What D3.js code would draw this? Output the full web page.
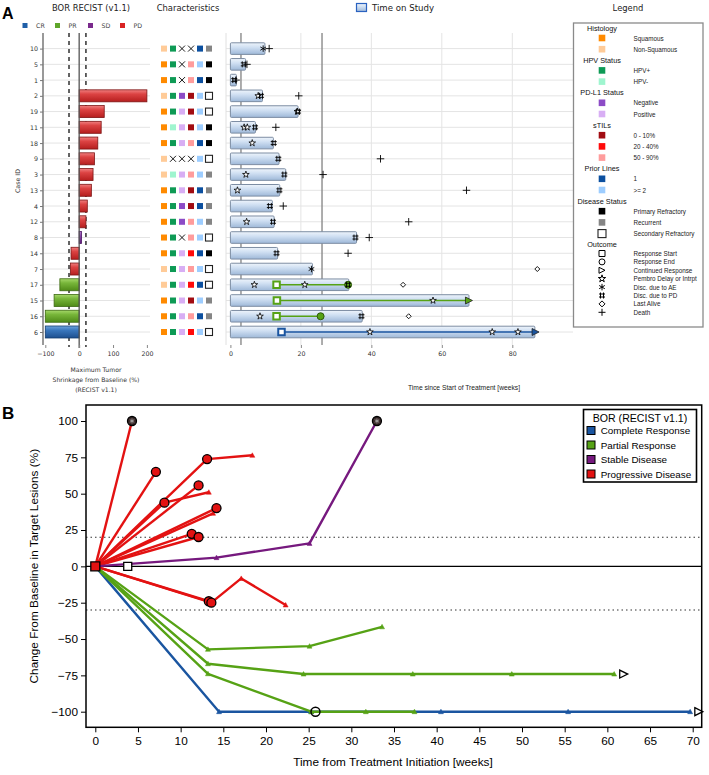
<!DOCTYPE html>
<html><head><meta charset="utf-8">
<script src="https://cdn.jsdelivr.net/npm/d3@7"></script>
<style>body{margin:0;background:#fff}svg{display:block}</style>
</head><body>
<svg id="chart" width="709" height="775"></svg>
<script>
// ---------------- DATA ----------------
const caseIds = ["10","5","1","2","19","11","18","9","3","13","4","12","8","14","7","17","15","16","6"];
const borCategory = ["PD","PD","PD","PD","PD","PD","PD","PD","PD","PD","PD","PD","SD","PD","PD","PR","PR","PR","CR"];
const maxShrinkage = [null,null,null,200,74,65,55,45,41,36,24,20,7,-24,-26,-57,-74,-100,-100];
const histology = ["Non-Squamous","Squamous","Squamous","Non-Squamous","Squamous","Squamous","Squamous","Non-Squamous","Non-Squamous","Squamous","Squamous","Squamous","Squamous","Squamous","Non-Squamous","Non-Squamous","Squamous","Squamous","Squamous"];
const hpvStatus = ["HPV+","HPV+","HPV+","HPV+","HPV+","HPV-","HPV+",null,"HPV-","HPV+","HPV+","HPV+","HPV+","HPV+","HPV+","HPV+","HPV+","HPV+","HPV+"];
const pdl1Status = [null,null,null,"Negative","Positive","Positive","Positive",null,"Positive","Positive","Negative","Negative",null,"Positive","Positive","Positive","Positive","Positive","Positive"];
const stilsLevel = [null,"50 - 90%","50 - 90%","0 - 10%","0 - 10%","0 - 10%","50 - 90%",null,"50 - 90%","0 - 10%","0 - 10%","50 - 90%","50 - 90%","20 - 40%","50 - 90%","20 - 40%","0 - 10%","50 - 90%","20 - 40%"];
const priorLines = ["1",">= 2","1",">= 2",">= 2",">= 2","1",">= 2",">= 2","1","1",">= 2",">= 2","1",">= 2","1",">= 2","1",">= 2"];
const diseaseStatus = ["Recurrent","Primary Refractory","Primary Refractory","Secondary Refractory","Secondary Refractory","Primary Refractory","Primary Refractory","Secondary Refractory","Recurrent","Recurrent","Recurrent","Recurrent","Secondary Refractory","Primary Refractory","Secondary Refractory","Secondary Refractory","Recurrent","Recurrent","Secondary Refractory"];
const timeOnStudy = [9.8,4.3,1.7,9.1,19.2,7.1,12.2,13.8,15.7,14.0,11.9,12.4,35.8,13.4,23.3,33.6,67.7,37.4,86.4];

const responseStartEvents = [["17",13.1],["15",13.2],["16",13.1],["6",14.5]];
const responseEndEvents = [["17",33.4],["16",25.6]];
const continuedResponseEvents = [["15",67.7],["6",86.6]];
const pembroDelayEvents = [["2",7.9],["19",19.0],["11",3.9],["11",4.8],["18",6.2],["3",4.4],["13",2.0],["12",4.6],["17",6.8],["17",21.1],["15",57.5],["16",8.4],["6",39.6],["6",74.3],["6",81.6]];
const discAEEvents = [["10",9.3],["7",23.0]];
const discPDEvents = [["5",3.8],["1",1.1],["2",8.7],["19",19.2],["11",7.0],["18",12.3],["9",13.6],["3",15.3],["13",13.9],["4",11.2],["12",12.1],["8",35.5],["14",13.1],["17",33.4],["16",37.2]];
const lastAliveEvents = [["7",87.1],["17",49.0],["16",50.6]];
const deathEvents = [["10",11.0],["5",4.7],["1",1.6],["2",19.4],["11",12.9],["9",42.6],["3",26.3],["13",67.0],["4",15.0],["12",50.6],["8",39.4],["14",33.4]];

const waterfallThresholds = [-30, 20];
const waterfallTicks = [-100, 0, 100, 200];
const swimmerTicks = [0, 20, 40, 60, 80];
const swimmerRefWeeks = [3, 26];

const legendGroupTitles = ["Histology","HPV Status","PD-L1 Status","sTILs","Prior Lines","Disease Status","Outcome"];
const legendGroupItems = [["Squamous","Non-Squamous"],["HPV+","HPV-"],["Negative","Positive"],["0 - 10%","20 - 40%","50 - 90%"],["1",">= 2"],["Primary Refractory","Recurrent","Secondary Refractory"],["Response Start","Response End","Continued Response","Pembro Delay or Intrpt","Disc. due to AE","Disc. due to PD","Last Alive","Death"]];
const outcomeSymbols = ["square","circle","triRight","star","asterisk","hash","diamond","plus"];

// Panel B
const spiderBor = ["PD","PD","PD","PD","PD","PD","PD","PD","PD","PD","PD","SD","CR","PR","PR","PR"];
const spiderWeeks = [[0,4.3],[0,7.1],[0,13.1,18.4],[0,8.1,13.3],[0,12.1],[0,14.2],[0,13.8],[0,11.3],[0,12.1],[0,13.3],[0,13.6,17.1,22.3],[0,14.2,25.1,33.0],[0,14.5,25.3,40.5,55.4,69.7],[0,13.2,25.1,33.6],[0,13.2,24.4,37.2,48.8,60.8],[0,13.2,25.3,31.7,37.4]];
const spiderChange = [[0,100],[0,65],[0,73.8,76.4],[0,43.8,51],[0,55.7],[0,40.1],[0,36.5],[0,22.4],[0,20.2],[0,-24],[0,-25,-8.3,-26.6],[0,6,15.8,100],[0,-100,-100,-100,-100,-100],[0,-57.1,-54.9,-41.6],[0,-67,-74.1,-74.1,-74.1,-74.1],[0,-73.9,-100,-100,-100]];
const progressionWeeks = [4.3,7.1,13.1,8.1,12.1,14.2,11.3,12.1,13.3,13.6,33.0];
const progressionChange = [100,65,73.8,43.8,55.7,40.1,22.4,20.2,-24,-25,100];
const responseStartWeeksB = [3.8], responseStartChangeB = [0];
const responseEndWeeksB = [25.8], responseEndChangeB = [-100];
const continuedWeeksB = [61.8, 70.6], continuedChangeB = [-74.1, -100];
const spiderThresholds = [20, -30];
const spiderXTicks = d3.range(0, 71, 5);
const spiderYTicks = [-100,-75,-50,-25,0,25,50,75,100];
const borLegendLabels = ["Complete Response","Partial Response","Stable Disease","Progressive Disease"];
const borLegendKeys = ["CR","PR","SD","PD"];

// ---------------- STYLE ----------------
const borColA = {CR:"#1f5fa8", PR:"#5fa62a", SD:"#7a2a8c", PD:"#d92323"};
const borColB = {CR:"#1a55a0", PR:"#56a215", SD:"#76197e", PD:"#e31212"};
const charColors = {"Squamous":"#ff8a00","Non-Squamous":"#ffcb98","HPV+":"#0e9a55","HPV-":"#9ff5cf","Negative":"#8c4bc6","Positive":"#d8aef4","0 - 10%":"#a10c12","20 - 40%":"#ff0a0a","50 - 90%":"#ff9c9c","1":"#0b4f9f",">= 2":"#9dcdff","Primary Refractory":"#000","Recurrent":"#858585","Secondary Refractory":"none"};
const FA = "DejaVu Sans, Verdana, sans-serif";
const FB = "Liberation Sans, Arial, sans-serif";

const svg = d3.select("#chart");
const defs = svg.append("defs");
function addGrad(id, stops){
  const g = defs.append("linearGradient").attr("id",id).attr("x1",0).attr("y1",0).attr("x2",0).attr("y2",1);
  stops.forEach(([o,c])=>g.append("stop").attr("offset",o).attr("stop-color",c));
}
addGrad("gPD",[[0,"#f08080"],[0.35,"#dc4343"],[1,"#b51e1e"]]);
addGrad("gPR",[[0,"#a6d86a"],[0.35,"#78b63a"],[1,"#4f8a18"]]);
addGrad("gCR",[[0,"#6fa3dc"],[0.35,"#3a77bd"],[1,"#1d4f8f"]]);
addGrad("gSD",[[0,"#b07acc"],[0.35,"#8a44a8"],[1,"#5e1f7a"]]);
addGrad("gTime",[[0,"#eef4fb"],[0.4,"#cfdff2"],[1,"#9eb8d8"]]);
const strokeA = {PD:"#7d1414",PR:"#3e6a12",CR:"#153c6e",SD:"#4c1464"};

function markerPath(type, s){
  const h = s/2;
  switch(type){
    case "square": return `M${-h},${-h}h${s}v${s}h${-s}Z`;
    case "circle": return d3.symbol().type(d3.symbolCircle).size(Math.PI*h*h)();
    case "triRight": return `M${-h},${-h}L${h},0L${-h},${h}Z`;
    case "triUp": return `M0,${-h}L${h},${h*0.8}L${-h},${h*0.8}Z`;
    case "star": return d3.symbol().type(d3.symbolStar).size(s*s*0.55)();
    case "asterisk": { const a=h*0.87, b=h*0.5; return `M0,${-h}V${h}M${-a},${-b}L${a},${b}M${-a},${b}L${a},${-b}`; }
    case "hash": { const q=s/4; return `M${-q},${-h}V${h}M${q},${-h}V${h}M${-h},${-q}H${h}M${-h},${q}H${h}`; }
    case "diamond": return `M0,${-h}L${h},0L0,${h}L${-h},0Z`;
    case "plus": return `M0,${-h}V${h}M${-h},0H${h}`;
    case "times": return `M${-h},${-h}L${h},${h}M${-h},${h}L${h},${-h}`;
  }
}
function drawSym(g, type, x, y, s, opts={}){
  return g.append("path").attr("d", markerPath(type,s)).attr("transform",`translate(${x},${y})`)
    .attr("fill", opts.fill || "none").attr("stroke", opts.stroke || "#000").attr("stroke-width", opts.sw || 0.9);
}

// ---------------- PANEL A ----------------
const A = svg.append("g");
A.append("text").attr("x",2).attr("y",19).attr("font-family",FB).attr("font-weight","bold").attr("font-size",16).text("A");
A.append("text").attr("x",91).attr("y",11).attr("text-anchor","middle").attr("font-family",FA).attr("font-size",8.4).attr("fill","#222").text("BOR RECIST (v1.1)");
A.append("text").attr("x",188).attr("y",11).attr("text-anchor","middle").attr("font-family",FA).attr("font-size",8.4).attr("fill","#222").text("Characteristics");
A.append("text").attr("x",628).attr("y",11).attr("text-anchor","middle").attr("font-family",FA).attr("font-size",8.4).attr("fill","#222").text("Legend");
A.append("rect").attr("x",356.5).attr("y",3.5).attr("width",10).attr("height",8).attr("fill","url(#gTime)").attr("stroke","#2a62c0").attr("stroke-width",1.2);
A.append("text").attr("x",372).attr("y",11).attr("font-family",FA).attr("font-size",8.6).attr("fill","#222").text("Time on Study");
const borLegX = [25, 57.5, 90.5, 122.5];
borLegendKeys.forEach((k,i)=>{
  A.append("rect").attr("x",borLegX[i]-2.5).attr("y",23).attr("width",5).attr("height",5).attr("fill",borColA[k]);
  A.append("text").attr("x",borLegX[i]+11).attr("y",25.7).attr("dominant-baseline","central").attr("font-family",FA).attr("font-size",6.3).attr("fill","#444").text(k);
});

const yRow = d3.scalePoint().domain(caseIds).range([48.6, 332]);
const xW = d3.scaleLinear().domain([-100,200]).range([45.3,146.9]);
const xS = d3.scaleLinear().domain([0,80]).range([230.4,512.3]);
const plotTop = 33, plotBot = 345;

caseIds.forEach(id=>{
  A.append("line").attr("x1",43).attr("x2",150).attr("y1",yRow(id)).attr("y2",yRow(id)).attr("stroke","#e4e4e4").attr("stroke-width",1);
  A.append("line").attr("x1",226).attr("x2",573).attr("y1",yRow(id)).attr("y2",yRow(id)).attr("stroke","#e4e4e4").attr("stroke-width",1);
});
swimmerTicks.filter(t=>t>0).forEach(t=>{
  A.append("line").attr("x1",xS(t)).attr("x2",xS(t)).attr("y1",plotTop).attr("y2",plotBot).attr("stroke","#e4e4e4");
});
A.append("line").attr("x1",226).attr("x2",226).attr("y1",plotTop).attr("y2",plotBot).attr("stroke","#e0e0e0");

waterfallThresholds.forEach(t=>{
  A.append("line").attr("x1",xW(t)).attr("x2",xW(t)).attr("y1",plotTop).attr("y2",plotBot+2).attr("stroke","#111").attr("stroke-width",1.3).attr("stroke-dasharray","4,4");
});
caseIds.forEach((id,i)=>{
  const v = maxShrinkage[i]; if(v==null) return;
  const b = borCategory[i];
  A.append("rect").attr("x",xW(Math.min(0,v))).attr("y",yRow(id)-6).attr("width",Math.abs(xW(v)-xW(0))).attr("height",12)
    .attr("fill",`url(#g${b})`).attr("stroke",strokeA[b]).attr("stroke-width",0.8);
});
A.append("line").attr("x1",xW(0)).attr("x2",xW(0)).attr("y1",plotTop).attr("y2",plotBot+3).attr("stroke","#555").attr("stroke-width",1.3);
A.append("line").attr("x1",43).attr("x2",43).attr("y1",plotTop).attr("y2",plotBot).attr("stroke","#777").attr("stroke-width",1.5);
const yAx = A.append("g").attr("transform","translate(43,0)").call(d3.axisLeft(yRow).tickSize(3).tickPadding(2));
yAx.select(".domain").remove();
yAx.selectAll("line").attr("stroke","#777");
yAx.selectAll("text").attr("font-family",FA).attr("font-size",6.3).attr("fill","#333");
const xWAx = A.append("g").attr("transform",`translate(0,${plotBot})`).call(d3.axisBottom(xW).tickValues(waterfallTicks).tickSize(3).tickPadding(4));
xWAx.select(".domain").remove();
xWAx.selectAll("line").attr("stroke","#888");
xWAx.selectAll("text").attr("font-family",FA).attr("font-size",6.3).attr("fill","#333");
A.append("text").attr("transform","translate(20,181) rotate(-90)").attr("text-anchor","middle").attr("font-family",FA).attr("font-size",6.3).attr("fill","#333").text("Case ID");
["Maximum Tumor","Shrinkage from Baseline (%)","(RECIST v1.1)"].forEach((t,i)=>{
  A.append("text").attr("x",96).attr("y",372+i*10).attr("text-anchor","middle").attr("font-family",FA).attr("font-size",6.1).attr("fill","#333").text(t);
});

const charCols = [histology,hpvStatus,pdl1Status,stilsLevel,priorLines,diseaseStatus];
const xC = d3.scalePoint().domain(d3.range(6)).range([164,209]);
charCols.forEach((col,c)=>{
  caseIds.forEach((id,i)=>{
    const v = col[i], cx = xC(c), cy = yRow(id);
    if(v==null){ drawSym(A,"times",cx,cy,6,{sw:0.9}); return; }
    if(v==="Secondary Refractory"){
      A.append("rect").attr("x",cx-3.5).attr("y",cy-3.5).attr("width",7).attr("height",7).attr("fill","#fff").attr("stroke","#222").attr("stroke-width",1.1);
    } else {
      A.append("rect").attr("x",cx-3).attr("y",cy-3).attr("width",6).attr("height",6).attr("fill",charColors[v]);
    }
  });
});

swimmerRefWeeks.forEach(w=>{
  A.append("line").attr("x1",xS(w)).attr("x2",xS(w)).attr("y1",plotTop).attr("y2",plotBot).attr("stroke","#8a8a8a").attr("stroke-width",1.4);
});
caseIds.forEach((id,i)=>{
  A.append("rect").attr("x",xS(0)).attr("y",yRow(id)-5.8).attr("width",xS(timeOnStudy[i])-xS(0)).attr("height",11.6).attr("rx",1)
    .attr("fill","url(#gTime)").attr("stroke","#7d8da3").attr("stroke-width",1);
});
const xSAx = A.append("g").attr("transform",`translate(0,${plotBot})`).call(d3.axisBottom(xS).tickValues(swimmerTicks).tickSize(3).tickPadding(4));
xSAx.select(".domain").remove();
xSAx.selectAll("line").attr("stroke","#888");
xSAx.selectAll("text").attr("font-family",FA).attr("font-size",6.3).attr("fill","#333");
A.append("text").attr("x",464).attr("y",390).attr("text-anchor","middle").attr("font-family",FB).attr("font-size",6.7).attr("fill","#222").text("Time since Start of Treatment [weeks]");

const borOf = id => borCategory[caseIds.indexOf(id)];
responseStartEvents.forEach(([id,t])=>{
  const e = responseEndEvents.find(d=>d[0]===id) || continuedResponseEvents.find(d=>d[0]===id);
  if(!e) return;
  A.append("line").attr("x1",xS(t)).attr("x2",xS(e[1])).attr("y1",yRow(id)).attr("y2",yRow(id)).attr("stroke",borColB[borOf(id)]).attr("stroke-width",1.4);
});
pembroDelayEvents.forEach(([id,t])=>drawSym(A,"star",xS(t),yRow(id),5,{sw:0.8,fill:"#fff"}));
discAEEvents.forEach(([id,t])=>drawSym(A,"asterisk",xS(t),yRow(id),6.5,{sw:0.9}));
deathEvents.forEach(([id,t])=>drawSym(A,"plus",xS(t),yRow(id),7.5,{sw:0.9}));
lastAliveEvents.forEach(([id,t])=>drawSym(A,"diamond",xS(t),yRow(id),5,{sw:0.9,fill:"#fff"}));
responseEndEvents.forEach(([id,t])=>drawSym(A,"circle",xS(t),yRow(id),7,{fill:borColB[borOf(id)],stroke:"#2e5a0a",sw:1}));
discPDEvents.forEach(([id,t])=>drawSym(A,"hash",xS(t),yRow(id),6,{sw:0.9}));
responseStartEvents.forEach(([id,t])=>{
  drawSym(A,"square",xS(t),yRow(id),6.5,{fill:"#fff",stroke:borColB[borOf(id)],sw:2});
});
continuedResponseEvents.forEach(([id,t])=>drawSym(A,"triRight",xS(t),yRow(id),7,{fill:borColB[borOf(id)],stroke:"#222",sw:0.8}));

A.append("rect").attr("x",573.5).attr("y",23).attr("width",129.5).attr("height",304).attr("fill","#fff").attr("stroke","#8a8a8a").attr("stroke-width",1.3);
let ly = 28;
legendGroupTitles.forEach((title,gi)=>{
  A.append("text").attr("x",602).attr("y",ly).attr("dominant-baseline","central").attr("text-anchor","middle").attr("font-family",FB).attr("font-size",7.3).attr("fill","#111").text(title);
  const isOutcome = title==="Outcome";
  ly += isOutcome ? 8.7 : 10;
  legendGroupItems[gi].forEach((item,ii)=>{
    if(isOutcome){
      const t = outcomeSymbols[ii];
      const s = t==="plus"?7:(t==="star"?5.5:(t==="asterisk"?6.5:6));
      drawSym(A,t,602,ly,s,{sw:1,fill:t==="star"?"#fff":"none"});
    } else if(item==="Secondary Refractory"){
      A.append("rect").attr("x",598).attr("y",ly-4).attr("width",8).attr("height",8).attr("fill","#fff").attr("stroke","#222").attr("stroke-width",1.1);
    } else {
      A.append("rect").attr("x",598.7).attr("y",ly-3.3).attr("width",6.6).attr("height",6.6).attr("fill",charColors[item]);
    }
    A.append("text").attr("x",633.5).attr("y",ly).attr("dominant-baseline","central").attr("font-family",FB).attr("font-size",6.3).attr("fill","#222").text(item);
    if(ii < legendGroupItems[gi].length-1) ly += isOutcome ? 8.4 : 11.2;
  });
  ly += 11.2;
});

// ---------------- PANEL B ----------------
const B = svg.append("g");
B.append("text").attr("x",2).attr("y",419).attr("font-family",FB).attr("font-weight","bold").attr("font-size",17).text("B");
const fx0=86, fx1=701.7, fy0=405, fy1=727.3;
const xB = d3.scaleLinear().domain([0,70]).range([95.3,692.7]);
const yB = d3.scaleLinear().domain([-100,100]).range([711.7,421]);
spiderThresholds.forEach(t=>{
  B.append("line").attr("x1",fx0).attr("x2",fx1).attr("y1",yB(t)).attr("y2",yB(t)).attr("stroke","#333").attr("stroke-width",1.1).attr("stroke-dasharray","1.5,3");
});
B.append("line").attr("x1",fx0).attr("x2",fx1).attr("y1",yB(0)).attr("y2",yB(0)).attr("stroke","#000").attr("stroke-width",1.2);
const lineGen = d3.line().x(d=>xB(d[0])).y(d=>yB(d[1]));
spiderWeeks.forEach((wk,i)=>{
  const pts = wk.map((w,j)=>[w, spiderChange[i][j]]);
  const col = borColB[spiderBor[i]];
  B.append("path").attr("d",lineGen(pts)).attr("fill","none").attr("stroke",col).attr("stroke-width",2.4).attr("stroke-linejoin","round");
  pts.slice(1).forEach(p=>drawSym(B,"triUp",xB(p[0]),yB(p[1]),5,{fill:col,stroke:col,sw:0.5}));
});
progressionWeeks.forEach((w,i)=>{
  const v = progressionChange[i];
  const isTop = v>=100;
  drawSym(B,"circle",xB(w),yB(v),9,{fill:isTop?"#3a2a2a":borColB.PD,stroke:"#000",sw:1.3});
  if(isTop) drawSym(B,"asterisk",xB(w),yB(v),5,{stroke:"#bbb",sw:0.7});
});
responseEndWeeksB.forEach((w,i)=>drawSym(B,"circle",xB(w),yB(responseEndChangeB[i]),9,{fill:"none",stroke:"#000",sw:1.4}));
continuedWeeksB.forEach((w,i)=>drawSym(B,"triRight",xB(w)+1,yB(continuedChangeB[i]),8,{fill:"#fff",stroke:"#000",sw:1.3}));
responseStartWeeksB.forEach((w,i)=>drawSym(B,"square",xB(w),yB(responseStartChangeB[i]),8,{fill:"#fff",stroke:"#000",sw:1.3}));
drawSym(B,"square",xB(0),yB(0),9,{fill:borColB.PD,stroke:"#000",sw:1.3});
B.append("rect").attr("x",fx0).attr("y",fy0).attr("width",fx1-fx0).attr("height",fy1-fy0).attr("fill","none").attr("stroke","#000").attr("stroke-width",1.5);
const yBAx = B.append("g").attr("transform",`translate(${fx0},0)`).call(d3.axisLeft(yB).tickValues(spiderYTicks).tickSize(5).tickPadding(3));
yBAx.select(".domain").remove();
yBAx.selectAll("line").attr("stroke","#000");
yBAx.selectAll("text").attr("font-family",FB).attr("font-size",11.8).attr("fill","#000");
const xBAx = B.append("g").attr("transform",`translate(0,${fy1})`).call(d3.axisBottom(xB).tickValues(spiderXTicks).tickSize(5).tickPadding(4));
xBAx.select(".domain").remove();
xBAx.selectAll("line").attr("stroke","#000");
xBAx.selectAll("text").attr("font-family",FB).attr("font-size",11.8).attr("fill","#000");
B.append("text").attr("x",393).attr("y",766).attr("text-anchor","middle").attr("font-family",FB).attr("font-size",11.8).attr("fill","#000").text("Time from Treatment Initiation [weeks]");
B.append("text").attr("transform",`translate(38,${(fy0+fy1)/2}) rotate(-90)`).attr("text-anchor","middle").attr("font-family",FB).attr("font-size",11.8).attr("fill","#000").text("Change From Baseline in Target Lesions (%)");
B.append("rect").attr("x",583.5).attr("y",409.5).attr("width",113).attr("height",72.5).attr("fill","#fff").attr("stroke","#000").attr("stroke-width",1.6);
B.append("text").attr("x",640).attr("y",418).attr("text-anchor","middle").attr("dominant-baseline","central").attr("font-family",FB).attr("font-size",10.6).attr("fill","#000").text("BOR (RECIST v1.1)");
borLegendKeys.forEach((k,i)=>{
  const yy = 430.5 + i*14.5;
  B.append("rect").attr("x",587).attr("y",yy-4).attr("width",8).attr("height",8).attr("fill",borColB[k]).attr("stroke","#000").attr("stroke-width",1);
  B.append("text").attr("x",600.7).attr("y",yy).attr("dominant-baseline","central").attr("font-family",FB).attr("font-size",9.9).attr("fill","#000").text(borLegendLabels[i]);
});
</script>
</body></html>
